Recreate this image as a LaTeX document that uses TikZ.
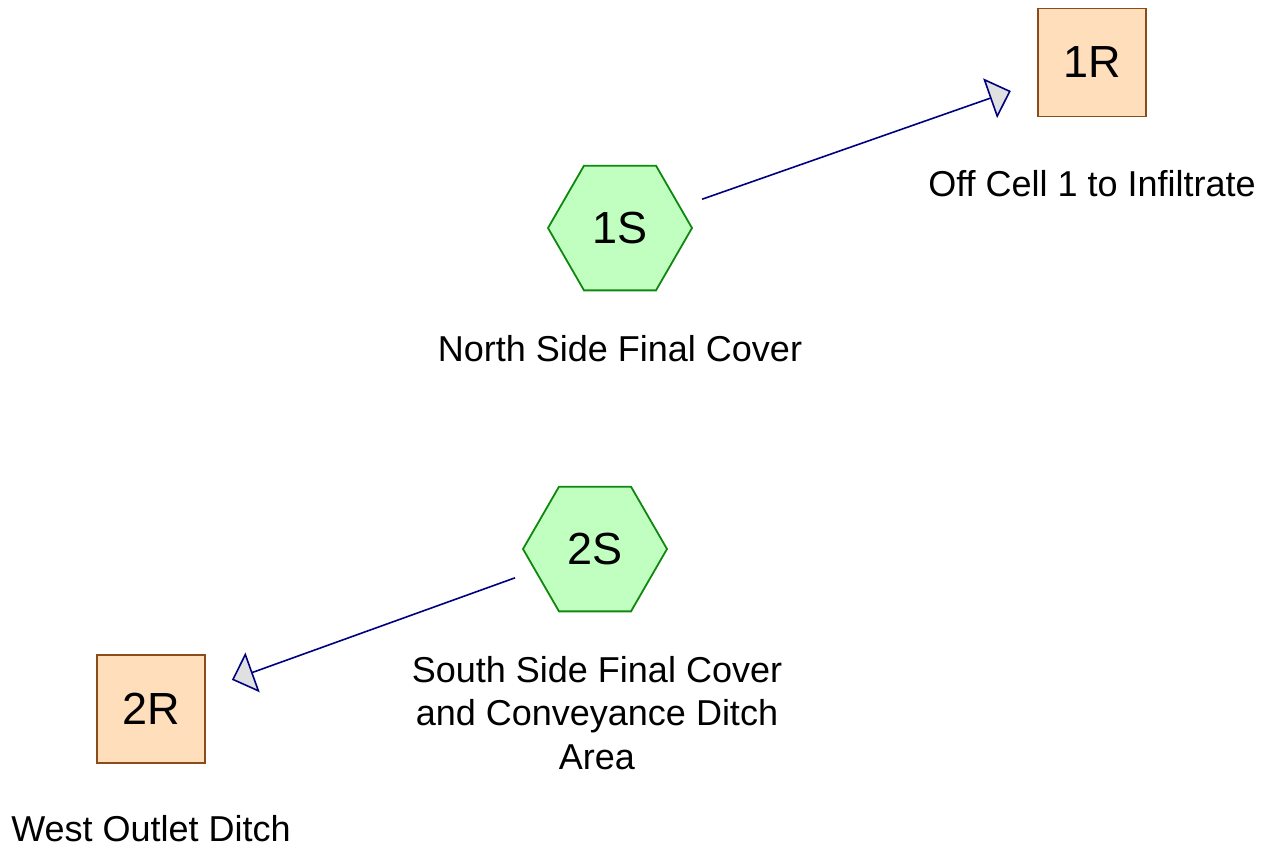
\documentclass[tikz,border=0pt]{standalone}
\usepackage{fontspec}
\setmainfont{Liberation Sans}
\usetikzlibrary{shapes.geometric,arrows.meta,calc}

\definecolor{subfill}{HTML}{C0FFC0}
\definecolor{subdraw}{HTML}{108810}
\definecolor{reachfill}{HTML}{FFDEBC}
\definecolor{reachdraw}{HTML}{8B4C1A}
\definecolor{flowline}{HTML}{000080}
\definecolor{tipfill}{HTML}{E0E0E0}

\begin{document}
\begin{tikzpicture}[x=1pt, y=-1pt,
    subcat/.style={regular polygon, regular polygon sides=6, minimum size=144pt,
      inner sep=0pt, outer sep=0pt, fill=subfill, draw=subdraw, line width=1.8pt,
      font=\fontsize{45}{50}\selectfont},
    reach/.style={rectangle, minimum size=108pt, inner sep=0pt, outer sep=0pt,
      fill=reachfill, draw=reachdraw, line width=1.8pt,
      font=\fontsize{45}{50}\selectfont},
    caption/.style={anchor=base, align=center, inner sep=0pt,
      font=\fontsize{36}{43.5}\selectfont},
    flow/.style={draw=flowline, line width=1.6pt, line join=round,
      -{Triangle[length=22pt, width=42pt, fill=tipfill]}}]
    \useasboundingbox (0,0) rectangle (1270,847);

    % Subcatchments
    \node[subcat] (n1S) at (620, 228) {1S};
    \node[subcat] (n2S) at (595, 549) {2S};

    % Reaches
    \node[reach] (n1R) at (1092, 62.5) {1R};
    \node[reach] (n2R) at (151, 709) {2R};

    % Captions (base = last line)
    \node[caption] (c1S) at (620, 361) {North Side Final Cover};
    \node[caption] (c2S) at (597, 769) {South Side Final Cover\\and Conveyance Ditch\\Area};
    \node[caption] (c1R) at (1092, 196) {Off Cell 1 to Infiltrate};
    \node[caption] (c2R) at (151, 841) {West Outlet Ditch};

    % Flows
    \draw[flow] ($(n1S)!87pt!(n1R)$) -- ($(n1R)!86pt!(n1S)$);
    \draw[flow] ($(n2S)!85pt!(n2R)$) -- ($(n2R)!86pt!(n2S)$);
\end{tikzpicture}
\end{document}
